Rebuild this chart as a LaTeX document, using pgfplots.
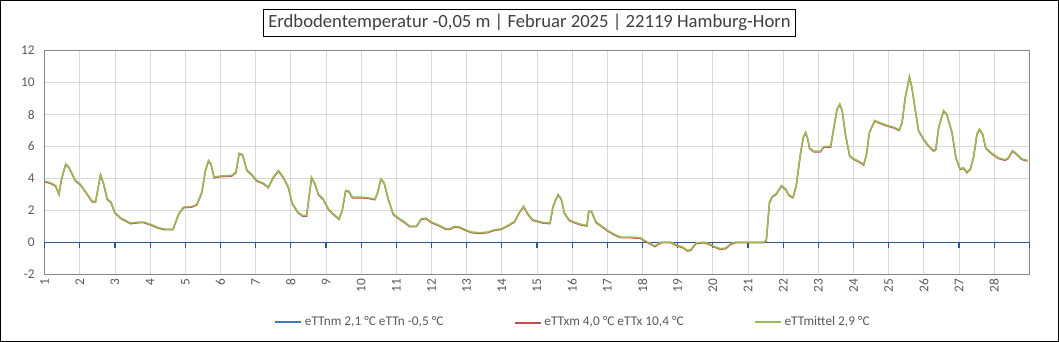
\documentclass[border=0pt]{standalone}
\usepackage{fontspec}
\setmainfont{Carlito}
\usepackage{pgfplots}
\pgfplotsset{compat=1.18}
\usepackage{pgfplotstable}
\definecolor{axblue}{RGB}{47,85,151}
\definecolor{legblue}{RGB}{68,114,196}
\definecolor{sred}{RGB}{192,80,77}
\definecolor{sgreen}{RGB}{155,187,89}
\definecolor{gridgray}{RGB}{217,217,217}
\definecolor{framegray}{RGB}{134,134,134}
\definecolor{txtgray}{RGB}{89,89,89}
\definecolor{titlegray}{RGB}{64,64,64}

\pgfplotstableread{
x y
1.00 3.83
1.17 3.73
1.31 3.56
1.41 3.04
1.47 3.88
1.60 4.92
1.69 4.71
1.88 3.88
2.02 3.63
2.21 3.04
2.35 2.58
2.45 2.58
2.59 4.25
2.68 3.67
2.78 2.73
2.89 2.52
2.99 1.90
3.16 1.54
3.44 1.21
3.68 1.27
3.82 1.27
4.01 1.13
4.24 0.92
4.43 0.83
4.65 0.83
4.81 1.79
4.95 2.21
5.19 2.25
5.33 2.38
5.47 3.15
5.57 4.50
5.66 5.13
5.73 4.92
5.82 4.08
5.99 4.15
6.32 4.19
6.44 4.40
6.53 5.58
6.63 5.50
6.75 4.54
6.89 4.25
7.03 3.88
7.22 3.71
7.36 3.46
7.50 4.08
7.65 4.50
7.79 4.08
7.93 3.46
8.04 2.46
8.20 1.90
8.33 1.69
8.45 1.69
8.59 4.08
8.69 3.67
8.78 3.04
8.92 2.73
9.07 2.10
9.21 1.79
9.37 1.48
9.46 2.00
9.56 3.25
9.65 3.21
9.75 2.83
10.01 2.83
10.20 2.79
10.39 2.71
10.47 3.15
10.56 3.98
10.65 3.77
10.77 2.73
10.91 1.79
11.05 1.54
11.24 1.27
11.38 1.02
11.57 1.02
11.71 1.48
11.84 1.52
12.00 1.27
12.23 1.06
12.42 0.85
12.52 0.85
12.66 1.00
12.80 0.96
12.97 0.79
13.13 0.65
13.37 0.60
13.60 0.65
13.79 0.79
13.98 0.85
14.17 1.06
14.36 1.31
14.50 1.90
14.62 2.27
14.74 1.79
14.88 1.42
15.16 1.25
15.37 1.21
15.45 2.21
15.52 2.63
15.60 3.00
15.69 2.73
15.78 1.85
15.92 1.40
16.11 1.23
16.25 1.13
16.42 1.06
16.47 1.96
16.55 1.96
16.68 1.27
16.82 1.06
17.01 0.75
17.20 0.50
17.39 0.33
17.67 0.33
17.94 0.29
18.05 0.13
18.24 -0.08
18.35 -0.23
18.45 -0.08
18.54 0.02
18.81 0.02
18.99 -0.19
19.14 -0.29
19.28 -0.50
19.37 -0.46
19.52 -0.04
19.75 0.02
19.89 -0.08
20.04 -0.25
20.22 -0.40
20.37 -0.35
20.51 -0.08
20.65 0.02
21.45 0.02
21.52 0.13
21.61 2.52
21.69 2.88
21.80 3.04
21.95 3.56
22.07 3.35
22.16 2.98
22.28 2.83
22.37 3.56
22.49 5.54
22.57 6.58
22.64 6.90
22.70 6.48
22.75 5.92
22.87 5.71
23.06 5.71
23.16 6.00
23.35 6.00
23.44 7.21
23.53 8.35
23.61 8.67
23.68 8.25
23.77 6.79
23.89 5.44
24.01 5.23
24.15 5.08
24.29 4.88
24.37 5.54
24.45 6.90
24.60 7.63
24.72 7.52
24.91 7.35
25.14 7.21
25.30 7.04
25.38 7.52
25.47 9.08
25.59 10.38
25.66 9.71
25.76 8.25
25.85 7.00
25.99 6.48
26.13 6.06
26.28 5.75
26.34 5.85
26.42 7.21
26.56 8.25
26.65 8.04
26.80 6.90
26.91 5.33
27.03 4.60
27.13 4.67
27.22 4.40
27.32 4.60
27.41 5.33
27.51 6.79
27.58 7.10
27.67 6.79
27.76 5.92
27.93 5.58
28.12 5.29
28.31 5.17
28.40 5.29
28.52 5.75
28.64 5.54
28.78 5.23
28.95 5.13
}\soiltemp

\begin{document}
\begin{tikzpicture}
\draw[black, line width=1pt] (0,0) rectangle (794.25pt,255.75pt);
\node[draw=black, line width=0.8pt, minimum width=399.75pt, minimum height=20.25pt, inner sep=0pt, text=titlegray, font=\fontsize{14}{16}\selectfont] at (397.1pt,239.25pt) {Erdbodentemperatur -0,05 m | Februar 2025 | 22119 Hamburg-Horn};
\begin{axis}[
  at={(33pt,50.25pt)}, anchor=south west,
  scale only axis, width=739.5pt, height=168pt,
  xmin=1, xmax=29, ymin=-2, ymax=12,
  xtick={1,2,...,29},
  xticklabels={1,2,3,4,5,6,7,8,9,10,11,12,13,14,15,16,17,18,19,20,21,22,23,24,25,26,27,28,{}},
  ytick={-2,0,2,4,6,8,10,12},
  major tick length=0pt,
  grid=major,
  major grid style={draw=gridgray, line width=0.6pt},
  axis line style={draw=framegray, line width=0.6pt},
  tick label style={font=\fontsize{10}{12}\selectfont, text=txtgray},
  /pgf/number format/assume math mode=true,
  xticklabel style={rotate=90, anchor=east, xshift=0pt},
  yticklabel style={xshift=-4pt},
  legend columns=3,
  legend style={at={(0.537,-0.213)}, anchor=center, draw=none, fill=none,
    font=\fontsize{10}{12}\selectfont, text=txtgray,
    /tikz/every even column/.append style={column sep=51pt},
    inner sep=0pt},
  legend cell align=left,
  legend image code/.code={\draw[#1, line width=1.3pt] (0pt,0pt) -- (19.5pt,0pt);},
  clip=false,
]
\addlegendimage{color=legblue}
\addlegendentry{eTTnm 2,1 °C eTTn -0,5 °C}
\addplot[color=axblue, line width=0.9pt, forget plot] coordinates {(1,0) (29,0)};
\addplot[ycomb, color=axblue, line width=0.9pt, no marks, forget plot] coordinates {
(1,-0.33) (2,-0.33) (3,-0.33) (4,-0.33) (5,-0.33) (6,-0.33) (7,-0.33) (8,-0.33) (9,-0.33) (10,-0.33)
(11,-0.33) (12,-0.33) (13,-0.33) (14,-0.33) (15,-0.33) (16,-0.33) (17,-0.33) (18,-0.33) (19,-0.33) (20,-0.33)
(21,-0.33) (22,-0.33) (23,-0.33) (24,-0.33) (25,-0.33) (26,-0.33) (27,-0.33) (28,-0.33) (29,-0.33)};
\addplot[color=sred, line width=1.1pt, no marks, yshift=-0.5pt] table[x=x, y=y] {\soiltemp};
\addlegendentry{eTTxm 4,0 °C eTTx 10,4 °C}
\addplot[color=sgreen, line width=1.1pt, no marks] table[x=x, y=y] {\soiltemp};
\addlegendentry{eTTmittel 2,9 °C}
\end{axis}
\end{tikzpicture}
\end{document}
